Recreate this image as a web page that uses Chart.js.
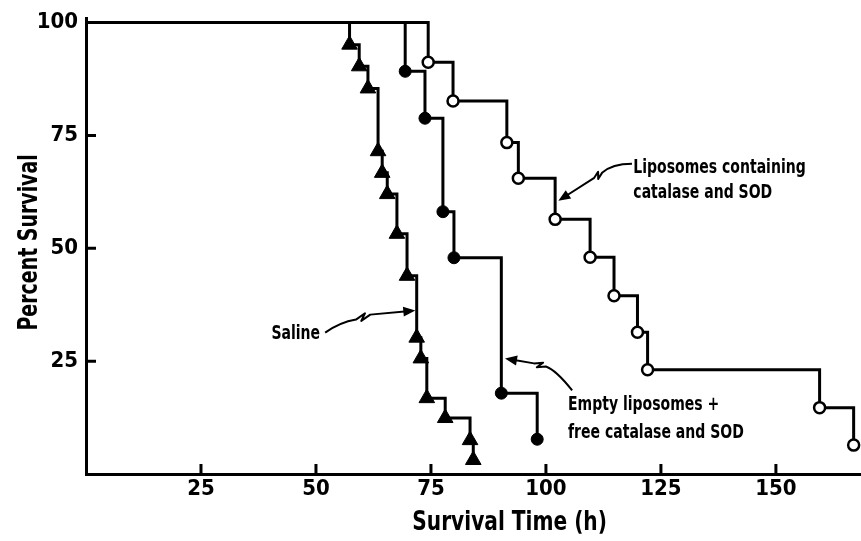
<!DOCTYPE html>
<html>
<head>
<meta charset="utf-8" />
<title>Percent Survival</title>
<script src="https://cdn.jsdelivr.net/npm/chart.js@4.4.0/dist/chart.umd.min.js"></script>
<style>
  html, body { margin: 0; padding: 0; background: #fff; }
  #wrap { width: 861px; height: 541px; position: relative; }
</style>
</head>
<body>
<div id="wrap"><canvas id="chart"></canvas></div>
<script>
// survival time (h) and percent surviving
const salineTime = [0, 57.3, 59.4, 61.3, 63.5, 64.4, 65.5, 67.6, 69.8, 71.9, 72.8, 74.1, 78.1, 83.5, 84.2];
const salineSurv = [100, 95.1, 90.3, 85.4, 71.5, 66.7, 62.0, 53.2, 43.9, 30.2, 25.6, 16.8, 12.4, 7.5, 3.1];
const emptyTime = [0, 69.4, 73.7, 77.6, 80.0, 90.3, 98.1];
const emptySurv = [100, 89.2, 78.8, 58.1, 47.9, 17.9, 7.7];
const lipoTime = [0, 74.4, 79.8, 91.5, 94.0, 102.0, 109.6, 114.8, 119.9, 122.1, 159.5, 166.9];
const lipoSurv = [100, 91.2, 82.6, 73.4, 65.5, 56.4, 48.0, 39.5, 31.4, 23.1, 14.7, 6.4];
const xTicks = [25, 50, 75, 100, 125, 150];
const yTicks = [25, 50, 75, 100];

const FAMILY = '"DejaVu Sans Condensed", "DejaVu Sans", sans-serif';

const toPoints = (t, s) => t.map((x, i) => ({ x: x, y: s[i] }));
// first point is the 0 h start of the curve, no marker there
const skipFirst = r => ctx => ctx.dataIndex === 0 ? 0 : r;

// annotation labels and arrows, in data units
const notes = [
  { lines: ['Saline'], at: [50.9, 30.0], align: 'right', gap: 0 },
  { lines: ['Empty liposomes +', 'free catalase and SOD'], at: [104.8, 14.1], align: 'left', gap: 6.2 },
  { lines: ['Liposomes containing', 'catalase and SOD'], at: [119.0, 66.7], align: 'left', gap: 5.6 }
];
const arrows = [
  { s: [52.0, 31.3], c: [55.2, 33.6], z1: [58.7, 34.2], z2: [61.8, 35.3], t: [71.6, 36.2] },
  { s: [105.7, 18.5], c: [102.2, 23.0], z1: [100.0, 23.8], z2: [97.4, 24.5], t: [91.1, 25.6] },
  { s: [118.7, 68.7], c: [114.4, 68.7], z1: [112.2, 66.7], z2: [110.5, 65.6], t: [102.7, 60.5] }
];

function squeezeText(ctx, text, x, y, size, align, squeeze, angle) {
  ctx.save();
  ctx.font = 'bold ' + size + 'px ' + FAMILY;
  ctx.fillStyle = '#000';
  ctx.textBaseline = 'alphabetic';
  ctx.textAlign = align;
  ctx.translate(x, y);
  if (angle) ctx.rotate(angle);
  ctx.scale(squeeze, 1);
  ctx.fillText(text, 0, 0);
  ctx.restore();
}

const decor = {
  id: 'decor',
  afterDraw(chart) {
    const ctx = chart.ctx;
    const xs = chart.scales.x, ys = chart.scales.y;
    const area = chart.chartArea;
    const P = p => [xs.getPixelForValue(p[0]), ys.getPixelForValue(p[1])];

    // inward tick marks
    ctx.save();
    ctx.strokeStyle = '#000';
    ctx.lineWidth = 3;
    ctx.beginPath();
    ys.ticks.forEach(t => {
      const y = ys.getPixelForValue(t.value);
      ctx.moveTo(area.left, y);
      ctx.lineTo(area.left + 10, y);
    });
    xs.ticks.forEach(t => {
      const x = xs.getPixelForValue(t.value);
      ctx.moveTo(x, area.bottom);
      ctx.lineTo(x, area.bottom - 10);
    });
    ctx.stroke();
    ctx.restore();

    // arrows with a small break in the shaft
    arrows.forEach(a => {
      const s = P(a.s), c = P(a.c), z1 = P(a.z1), z2 = P(a.z2), t = P(a.t);
      const dx = z2[0] - z1[0], dy = z2[1] - z1[1];
      const nx = -dy / Math.hypot(dx, dy) * 3, ny = dx / Math.hypot(dx, dy) * 3;
      const hx = t[0] - z2[0], hy = t[1] - z2[1];
      const hl = Math.hypot(hx, hy);
      const ux = hx / hl, uy = hy / hl;
      ctx.save();
      ctx.strokeStyle = '#000';
      ctx.fillStyle = '#000';
      ctx.lineWidth = 2;
      ctx.lineJoin = 'round';
      ctx.beginPath();
      ctx.moveTo(s[0], s[1]);
      ctx.quadraticCurveTo(c[0], c[1], z1[0], z1[1]);
      ctx.lineTo(z1[0] + dx * 0.7 - nx, z1[1] + dy * 0.7 - ny);
      ctx.lineTo(z1[0] + dx * 0.3 + nx, z1[1] + dy * 0.3 + ny);
      ctx.lineTo(z2[0], z2[1]);
      ctx.lineTo(t[0] - ux * 8, t[1] - uy * 8);
      ctx.stroke();
      ctx.beginPath();
      ctx.moveTo(t[0], t[1]);
      ctx.lineTo(t[0] - ux * 12 - uy * 5, t[1] - uy * 12 + ux * 5);
      ctx.lineTo(t[0] - ux * 12 + uy * 5, t[1] - uy * 12 - ux * 5);
      ctx.closePath();
      ctx.fill();
      ctx.restore();
    });

    // labels
    notes.forEach(n => {
      n.lines.forEach((line, i) => {
        const p = P([n.at[0], n.at[1] - i * n.gap]);
        squeezeText(ctx, line, p[0], p[1], 19, n.align, 0.82, 0);
      });
    });

    // axis titles
    squeezeText(ctx, 'Survival Time (h)', xs.getPixelForValue(92.1), area.bottom + 56, 27, 'center', 0.83, 0);
    squeezeText(ctx, 'Percent Survival', area.left - 49, ys.getPixelForValue(51.3), 27, 'center', 0.78, -Math.PI / 2);
  }
};

const tickFont = { family: FAMILY, size: 22, weight: 'bold' };

new Chart(document.getElementById('chart'), {
  type: 'line',
  data: {
    datasets: [
      {
        label: 'Saline',
        data: toPoints(salineTime, salineSurv),
        stepped: true,
        borderColor: '#000',
        borderWidth: 3,
        pointStyle: 'triangle',
        pointRadius: skipFirst(9),
        pointBackgroundColor: '#000',
        pointBorderColor: '#000',
        pointBorderWidth: 1,
        clip: false
      },
      {
        label: 'Empty liposomes + free catalase and SOD',
        data: toPoints(emptyTime, emptySurv),
        stepped: true,
        borderColor: '#000',
        borderWidth: 3,
        pointStyle: 'circle',
        pointRadius: skipFirst(6),
        pointBackgroundColor: '#000',
        pointBorderColor: '#000',
        pointBorderWidth: 1,
        clip: false
      },
      {
        label: 'Liposomes containing catalase and SOD',
        data: toPoints(lipoTime, lipoSurv),
        stepped: true,
        borderColor: '#000',
        borderWidth: 3,
        pointStyle: 'circle',
        pointRadius: skipFirst(5.5),
        pointBackgroundColor: '#fff',
        pointBorderColor: '#000',
        pointBorderWidth: 2.5,
        clip: false
      }
    ]
  },
  options: {
    responsive: true,
    maintainAspectRatio: false,
    animation: false,
    layout: { autoPadding: false, padding: { top: 18, right: 0, bottom: 0, left: 0 } },
    plugins: { legend: { display: false }, tooltip: { enabled: false } },
    scales: {
      x: {
        type: 'linear',
        min: 0,
        max: 168.5,
        grid: { display: false, drawTicks: false },
        border: { display: true, color: '#000', width: 3 },
        ticks: { color: '#000', font: tickFont, padding: 2, maxRotation: 0 },
        afterBuildTicks: s => { s.ticks = xTicks.map(v => ({ value: v })); },
        afterFit: s => { s.height = 67; s.paddingLeft = 0; s.paddingRight = 0; }
      },
      y: {
        type: 'linear',
        min: 0,
        max: 101,
        grid: { display: false, drawTicks: false },
        border: { display: true, color: '#000', width: 3 },
        ticks: { color: '#000', font: tickFont, padding: 8 },
        afterBuildTicks: s => { s.ticks = yTicks.map(v => ({ value: v })); },
        afterFit: s => { s.width = 86; s.paddingTop = 0; s.paddingBottom = 0; }
      }
    }
  },
  plugins: [decor]
});
</script>
</body>
</html>
